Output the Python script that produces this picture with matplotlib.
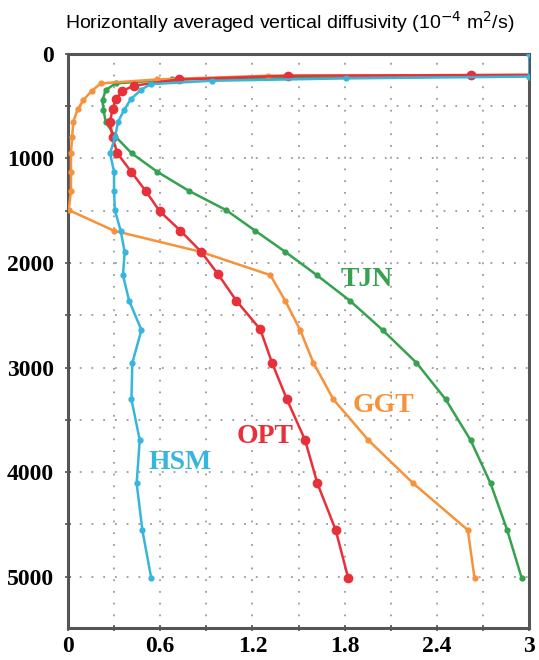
import matplotlib
matplotlib.use('Agg')
import matplotlib.pyplot as plt
import numpy as np

# depth (m) and diffusivity (1e-4 m2/s) per experiment
tjn_depth = [205, 245, 283, 347, 443, 538, 650, 777, 952, 1128, 1310, 1494, 1692, 1893,
             2116, 2361, 2641, 2954, 3304, 3693, 4107, 4553, 5015]
tjn_val = [3.3, 0.68, 0.31, 0.246, 0.225, 0.231, 0.246, 0.30, 0.415, 0.581, 0.786, 1.028,
           1.218, 1.413, 1.618, 1.834, 2.046, 2.266, 2.456, 2.618, 2.748, 2.856, 2.951]

ggt_depth = [200, 210, 245, 283, 354, 443, 532, 650, 799, 952, 1128, 1310, 1494, 1692,
             1893, 2116, 2361, 2641, 2954, 3304, 3693, 4107, 4553, 5015]
ggt_val = [3.3, 1.30, 0.58, 0.215, 0.155, 0.10, 0.063, 0.035, 0.027, 0.02, 0.02, 0.02,
           0.005, 0.30, 0.862, 1.316, 1.413, 1.51, 1.596, 1.726, 1.953, 2.245, 2.60, 2.644]

opt_depth = [200, 204, 210, 245, 305, 354, 436, 529, 650, 799, 952, 1131, 1310, 1504,
             1692, 1893, 2109, 2361, 2635, 2954, 3304, 3693, 4107, 4553, 5015]
opt_val = [3.3, 2.62, 1.43, 0.72, 0.43, 0.354, 0.311, 0.29, 0.274, 0.29, 0.322, 0.413,
           0.505, 0.596, 0.732, 0.866, 0.977, 1.095, 1.251, 1.327, 1.424, 1.542, 1.622,
           1.741, 1.823]

hsm_depth = [0, 218, 235, 258, 290, 347, 436, 538, 650, 793, 952, 1128, 1310, 1494,
             1692, 1893, 2116, 2361, 2641, 2954, 3304, 3693, 4107, 4553, 5015]
hsm_val = [3.0, 3.0, 1.81, 0.934, 0.538, 0.473, 0.408, 0.365, 0.326, 0.307, 0.274, 0.3,
           0.3, 0.305, 0.343, 0.369, 0.358, 0.398, 0.478, 0.419, 0.413, 0.467, 0.447,
           0.484, 0.542]

names = ['TJN', 'GGT', 'OPT', 'HSM']
colors = ['#34a24f', '#f7923a', '#e8303a', '#36b6dc']
label_pos = [(1.94, 2160), (2.05, 3360), (1.28, 3660), (0.73, 3910)]

fig = plt.figure(figsize=(5.39, 6.60), dpi=100)
ax = fig.add_axes([0.126, 0.0485, 0.856, 0.870])

# dotted grid
for gx in np.arange(0.3, 3.0, 0.3):
    ax.axvline(gx, color='#9a9a9a', lw=1.3, dashes=(1, 5.5), zorder=0)
for gy in np.arange(500, 5500, 500):
    ax.axhline(gy, color='#9a9a9a', lw=1.3, dashes=(1, 5.5), zorder=0)

series = [(tjn_val, tjn_depth), (ggt_val, ggt_depth), (opt_val, opt_depth), (hsm_val, hsm_depth)]
msizes = [3.5, 3.5, 6, 3.5]
for (v, d), c, ms in zip(series, colors, msizes):
    ax.plot(v, d, '-o', color=c, lw=1.8, ms=ms, mec=c, zorder=3)

for n, c, (lx, ly) in zip(names, colors, label_pos):
    ax.text(lx, ly, n, color=c, fontsize=20, fontweight='bold', family='Liberation Serif',
            ha='center', va='center', zorder=4)

ax.set_xlim(0, 3)
ax.set_ylim(5490, 0)
ax.set_xticks([0, 0.6, 1.2, 1.8, 2.4, 3])
ax.set_xticklabels(['0', '0.6', '1.2', '1.8', '2.4', '3'])
ax.set_xticks(np.arange(0.3, 3.0, 0.3), minor=True)
ax.set_yticks([0, 1000, 2000, 3000, 4000, 5000])
ax.set_yticks(np.arange(500, 5500, 1000), minor=True)
for lab in ax.get_xticklabels() + ax.get_yticklabels():
    lab.set_family('Liberation Serif')
    lab.set_fontweight('bold')
    lab.set_fontsize(17)
ax.tick_params(which='both', direction='inout', length=4, width=1.2, color='#555555')
ax.tick_params(axis='x', pad=4)
ax.tick_params(axis='y', pad=8)

for side in ['top', 'left', 'bottom']:
    ax.spines[side].set_color('#555555')
    ax.spines[side].set_linewidth(2.2)
    ax.spines[side].set_linestyle((0, (3, 0.8)))
ax.spines['right'].set_color('#555555')
ax.spines['right'].set_linewidth(2.2)

fig.text(290 / 539, 1 - 22 / 660,
         'Horizontally averaged vertical diffusivity (10$^{-4}$ m$^{2}$/s)',
         ha='center', va='center', fontsize=14, family='Liberation Sans')

fig.savefig('out.png', dpi=100)
